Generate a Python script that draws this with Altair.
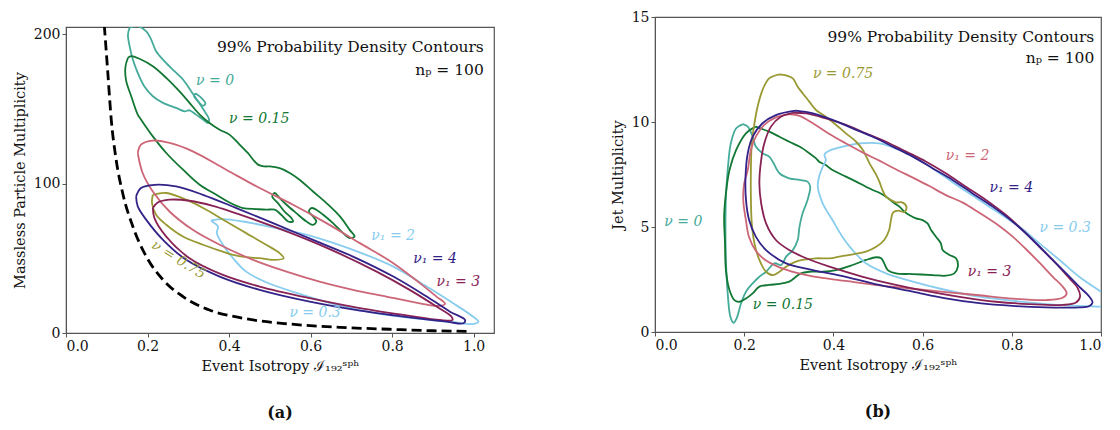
import altair as alt
import pandas as pd

# ---------------- Panel (a): event isotropy vs massless particle multiplicity
A_NU0 = [(0.156, 204.5), (0.176, 205.5), (0.197, 202), (0.209, 196.6), (0.221, 188.8), (0.242, 182),
         (0.266, 175.4), (0.287, 169.8), (0.307, 162), (0.324, 155.2), (0.340, 148.5), (0.351, 143),
         (0.348, 140.7), (0.336, 143), (0.319, 146.3), (0.303, 149.2), (0.291, 148.5), (0.270, 150.8),
         (0.238, 154.2), (0.213, 158.6), (0.192, 165.3), (0.176, 174.3), (0.164, 183.2), (0.156, 192.2),
         (0.152, 200)]
A_NU0_ISLAND = [(0.318, 160.4), (0.332, 157.5), (0.342, 153.7), (0.336, 152.3), (0.324, 155.2), (0.314, 159)]
A_NU015 = [(0.152, 184.4), (0.160, 185.5), (0.180, 183.7), (0.213, 178.7), (0.246, 170.9), (0.278, 162),
           (0.303, 154.2), (0.328, 146.3), (0.352, 140.7), (0.377, 136.2), (0.401, 132.9), (0.422, 127.3),
           (0.446, 120.6), (0.471, 112.8), (0.487, 111.6), (0.500, 111.6), (0.524, 110.5), (0.549, 107.2),
           (0.573, 102.7), (0.606, 94.8), (0.639, 87), (0.672, 78.1), (0.696, 69.1), (0.708, 64.6),
           (0.696, 63.6), (0.680, 66.9), (0.655, 73.6), (0.631, 79.2), (0.614, 82.6), (0.602, 83.7),
           (0.596, 81.4), (0.606, 78.1), (0.614, 74.7), (0.606, 72.5), (0.590, 74.7), (0.565, 80.3),
           (0.541, 85.9), (0.524, 90.4), (0.512, 93.8), (0.506, 91.5), (0.520, 87), (0.536, 81.4),
           (0.553, 77), (0.557, 74.7), (0.545, 74.7), (0.528, 79.2), (0.512, 82.6), (0.491, 82.6),
           (0.467, 83), (0.434, 83.7), (0.401, 87.4), (0.369, 92.6), (0.328, 99.3), (0.287, 109.4),
           (0.246, 120.6), (0.213, 131.7), (0.184, 143), (0.176, 146.3), (0.160, 158.6), (0.147, 169.8),
           (0.146, 178.7)]
A_NU1_2 = [(0.176, 120.6), (0.184, 126.2), (0.213, 128.9), (0.254, 127.3), (0.311, 121.7), (0.393, 109.4),
           (0.475, 97.1), (0.557, 85.9), (0.639, 73.6), (0.721, 60.2), (0.803, 46.8), (0.868, 33.4),
           (0.909, 24.4), (0.930, 19.5), (0.913, 18.1), (0.868, 19.9), (0.786, 24.4), (0.704, 28.9),
           (0.622, 34.4), (0.541, 41.1), (0.459, 49), (0.377, 59.1), (0.311, 69.1), (0.254, 81.4),
           (0.213, 94.8), (0.188, 107.2)]
A_NU1_4 = [(0.172, 91.5), (0.184, 97.1), (0.217, 99.3), (0.270, 98.2), (0.336, 92.6), (0.418, 83.7),
           (0.508, 73.6), (0.606, 62.4), (0.704, 51.2), (0.803, 37.8), (0.885, 24.4), (0.942, 14.3),
           (0.979, 8.7), (0.975, 6.5), (0.934, 7.6), (0.843, 10.5), (0.721, 15), (0.598, 21),
           (0.475, 28.9), (0.377, 37.8), (0.295, 49), (0.238, 62.4), (0.197, 75.8), (0.176, 84.8)]
A_NU1_3 = [(0.213, 83.7), (0.225, 87.4), (0.254, 89.3), (0.303, 88.6), (0.360, 85.2), (0.459, 76.3),
           (0.557, 66.4), (0.655, 55.2), (0.762, 41.1), (0.843, 28.9), (0.909, 17.7), (0.946, 10.9),
           (0.948, 8.7), (0.917, 8.7), (0.843, 11.4), (0.721, 16.6), (0.598, 23.3), (0.475, 31.1),
           (0.385, 38.9), (0.303, 50.1), (0.246, 64.6), (0.217, 77)]
A_NU075 = [(0.213, 92.6), (0.246, 93.8), (0.295, 89.3), (0.344, 82.6), (0.393, 74.7), (0.442, 66.9),
           (0.491, 59.1), (0.524, 53.5), (0.534, 50.1), (0.508, 49), (0.475, 50.1), (0.442, 50.8),
           (0.410, 52.3), (0.377, 55.2), (0.336, 59.1), (0.287, 64.6), (0.246, 72.5), (0.221, 79.2),
           (0.211, 87)]
A_NU03 = [(0.356, 75.4), (0.385, 76.3), (0.434, 74.7), (0.516, 70.3), (0.606, 64.6), (0.704, 55.7),
          (0.803, 44.5), (0.885, 31.1), (0.950, 19.9), (0.999, 10.9), (1.012, 7.6), (0.999, 6),
          (0.950, 7.2), (0.868, 9.4), (0.770, 12.8), (0.672, 18.3), (0.573, 26.2), (0.491, 34),
          (0.442, 41.1), (0.410, 50.1), (0.385, 59.1), (0.370, 66.9), (0.373, 71.3), (0.364, 73.6)]
A_BOUND = [(0.094, 206), (0.102, 176.5), (0.111, 143), (0.123, 116.1), (0.139, 93.8), (0.164, 71.3),
           (0.197, 51.2), (0.238, 35.6), (0.287, 24.4), (0.352, 15.4), (0.434, 9.9), (0.549, 6),
           (0.672, 3.8), (0.794, 2.5), (0.901, 1.5), (0.991, 1.1)]

# ---------------- Panel (b): event isotropy vs jet multiplicity
B_NU0 = [(0.197, 9.90), (0.208, 9.78), (0.219, 9.30), (0.226, 8.83), (0.241, 8.51), (0.256, 8.35),
         (0.264, 8.11), (0.279, 7.56), (0.301, 7.32), (0.324, 7.24), (0.342, 7.16), (0.348, 6.92),
         (0.342, 6.29), (0.331, 5.65), (0.324, 5.02), (0.320, 4.38), (0.309, 3.90), (0.294, 3.59),
         (0.283, 3.19), (0.268, 3.27), (0.249, 2.87), (0.234, 2.63), (0.219, 2.32), (0.204, 1.92),
         (0.193, 1.37), (0.183, 0.65), (0.176, 0.44), (0.169, 0.73), (0.163, 1.84), (0.159, 3.43),
         (0.158, 5.02), (0.159, 6.44), (0.163, 7.71), (0.170, 8.98), (0.182, 9.70)]
B_NU015 = [(0.226, 9.78), (0.256, 9.54), (0.279, 9.30), (0.301, 9.06), (0.324, 8.83), (0.346, 8.51),
           (0.361, 8.27), (0.368, 8.11), (0.383, 7.95), (0.398, 7.71), (0.428, 7.40), (0.451, 7.16),
           (0.473, 6.92), (0.488, 6.76), (0.503, 6.63), (0.518, 6.44), (0.537, 6.13), (0.548, 5.97),
           (0.559, 5.73), (0.570, 5.57), (0.585, 5.41), (0.600, 5.33), (0.611, 5.17), (0.619, 4.86),
           (0.630, 4.54), (0.641, 4.22), (0.645, 3.90), (0.660, 3.67), (0.675, 3.51), (0.679, 3.11),
           (0.671, 2.79), (0.652, 2.68), (0.623, 2.71), (0.578, 2.76), (0.540, 2.79), (0.522, 2.95),
           (0.514, 3.27), (0.507, 3.51), (0.496, 3.56), (0.473, 3.43), (0.443, 3.19), (0.406, 2.95),
           (0.376, 2.87), (0.346, 2.87), (0.327, 2.79), (0.316, 2.63), (0.301, 2.40), (0.279, 2.29),
           (0.256, 2.24), (0.234, 2.16), (0.219, 1.84), (0.204, 1.60), (0.189, 1.44), (0.178, 1.52),
           (0.167, 2.00), (0.159, 2.95), (0.157, 4.22), (0.155, 5.49), (0.159, 6.60), (0.167, 7.71),
           (0.182, 8.67), (0.204, 9.46)]
B_NU075 = [(0.279, 12.27), (0.294, 12.22), (0.309, 12.08), (0.320, 11.68), (0.331, 11.37), (0.346, 10.97),
           (0.361, 10.57), (0.383, 10.25), (0.406, 9.86), (0.428, 9.46), (0.451, 9.06), (0.466, 8.67),
           (0.481, 8.03), (0.496, 7.48), (0.503, 7.16), (0.510, 6.76), (0.518, 6.44), (0.529, 6.29),
           (0.540, 6.17), (0.554, 6.17), (0.564, 5.94), (0.559, 5.71), (0.546, 5.78), (0.534, 5.70),
           (0.529, 5.33), (0.525, 4.86), (0.514, 4.38), (0.496, 4.06), (0.473, 3.83), (0.443, 3.70),
           (0.413, 3.59), (0.391, 3.51), (0.361, 3.51), (0.339, 3.46), (0.316, 3.35), (0.294, 3.11),
           (0.279, 2.87), (0.264, 2.71), (0.249, 2.87), (0.234, 3.43), (0.223, 4.22), (0.217, 5.17),
           (0.215, 6.44), (0.215, 7.71), (0.217, 8.98), (0.223, 9.94), (0.230, 10.73), (0.241, 11.52),
           (0.256, 12.08)]
B_NU1_2 = [(0.301, 10.38), (0.324, 10.29), (0.354, 9.94), (0.391, 9.43), (0.428, 8.98), (0.466, 8.54),
           (0.503, 8.16), (0.540, 7.75), (0.578, 7.35), (0.615, 6.95), (0.652, 6.52), (0.690, 6.16),
           (0.727, 5.68), (0.772, 5.05), (0.802, 4.54), (0.832, 3.94), (0.862, 3.30), (0.892, 2.63),
           (0.914, 2.16), (0.923, 1.84), (0.914, 1.63), (0.877, 1.52), (0.802, 1.59), (0.727, 1.75),
           (0.652, 1.90), (0.578, 2.06), (0.503, 2.22), (0.428, 2.43), (0.368, 2.60), (0.316, 2.83),
           (0.279, 3.08), (0.249, 3.40), (0.226, 3.87), (0.211, 4.51), (0.204, 5.30), (0.198, 6.25),
           (0.200, 7.08), (0.208, 7.71), (0.215, 8.67), (0.226, 9.30), (0.245, 9.86), (0.271, 10.22)]
B_NU1_4 = [(0.316, 10.54), (0.354, 10.41), (0.398, 10.10), (0.443, 9.70), (0.488, 9.30), (0.533, 8.83),
           (0.578, 8.35), (0.623, 7.79), (0.667, 7.24), (0.712, 6.60), (0.757, 5.97), (0.802, 5.25),
           (0.847, 4.38), (0.884, 3.59), (0.922, 2.79), (0.951, 2.16), (0.974, 1.68), (0.981, 1.40),
           (0.974, 1.24), (0.951, 1.17), (0.914, 1.16), (0.877, 1.17), (0.802, 1.24), (0.727, 1.37),
           (0.652, 1.60), (0.578, 1.92), (0.503, 2.24), (0.428, 2.63), (0.354, 2.95), (0.294, 3.27),
           (0.249, 3.90), (0.226, 4.54), (0.211, 5.33), (0.204, 6.29), (0.203, 7.40), (0.208, 8.51),
           (0.219, 9.30), (0.241, 9.94), (0.271, 10.33)]
B_NU1_3 = [(0.309, 10.44), (0.339, 10.41), (0.383, 10.17), (0.428, 9.86), (0.473, 9.46), (0.518, 9.06),
           (0.563, 8.59), (0.608, 8.11), (0.652, 7.56), (0.697, 6.92), (0.742, 6.29), (0.787, 5.57),
           (0.824, 4.86), (0.862, 4.06), (0.899, 3.27), (0.929, 2.56), (0.948, 2.08), (0.953, 1.68),
           (0.944, 1.40), (0.914, 1.29), (0.839, 1.33), (0.765, 1.44), (0.690, 1.65), (0.615, 1.92),
           (0.540, 2.24), (0.466, 2.63), (0.391, 3.11), (0.339, 3.51), (0.301, 3.90), (0.271, 4.38),
           (0.249, 5.17), (0.238, 6.13), (0.234, 7.08), (0.238, 8.19), (0.245, 8.98), (0.260, 9.78),
           (0.282, 10.25)]
B_NU03 = [(0.383, 8.54), (0.395, 8.67), (0.428, 8.86), (0.458, 8.98), (0.503, 8.98), (0.548, 8.67),
          (0.593, 8.19), (0.638, 7.56), (0.682, 6.92), (0.727, 6.29), (0.772, 5.65), (0.817, 5.02),
          (0.862, 4.22), (0.907, 3.43), (0.951, 2.63), (1.000, 1.92), (1.041, 1.37), (1.041, 1.17),
          (1.000, 1.21), (0.951, 1.24), (0.877, 1.33), (0.802, 1.49), (0.727, 1.68), (0.652, 2.00),
          (0.578, 2.40), (0.518, 2.79), (0.473, 3.27), (0.443, 3.90), (0.420, 4.54), (0.398, 5.33),
          (0.376, 6.13), (0.365, 6.92), (0.368, 7.40), (0.376, 7.87), (0.383, 8.19), (0.380, 8.43)]

SERIES = ["nu0", "nu015", "nu03", "nu075", "nu1_2", "nu1_3", "nu1_4", "black"]
COLORS = ["#44AA99", "#117733", "#88CCEE", "#999933", "#CC6677", "#882255", "#332288", "#000000"]

# label texts: (series, text, x, y)
A_LABELS = [("nu0", "ν = 0", 0.319, 168.7), ("nu015", "ν = 0.15", 0.400, 143.6),
            ("nu03", "ν₁ = 2", 0.749, 65.0), ("nu1_4", "ν₁ = 4", 0.852, 49.7),
            ("nu1_3", "ν₁ = 3", 0.909, 34.4), ("nu03", "ν = 0.3", 0.548, 13.4)]
A_ROT_LABEL = [("nu075", "ν = 0.75", 0.276, 49.0)]
B_LABELS = [("nu075", "ν = 0.75", 0.354, 12.29), ("nu1_2", "ν₁ = 2", 0.652, 8.40),
            ("nu1_4", "ν₁ = 4", 0.750, 6.84), ("nu03", "ν = 0.3", 0.862, 4.94),
            ("nu1_3", "ν₁ = 3", 0.701, 2.87), ("nu0", "ν = 0", 0.021, 5.25),
            ("nu015", "ν = 0.15", 0.219, 1.29)]
TITLE_LINES = ["99% Probability Density Contours", "nₚ = 100"]
A_TITLE_POS = [(1.025, 191.3), (1.025, 176.5)]
B_TITLE_POS = [(0.985, 14.03), (0.985, 13.03)]

XTITLE = "Event Isotropy ℐ₁₉₂ˢᵖʰ"
FONT = "DejaVu Serif"


def contours_df(pieces):
    rows = []
    for key, series, pts in pieces:
        closed = list(pts) + [pts[0]]
        for i, (x, y) in enumerate(closed):
            rows.append({"key": key, "series": series, "order": i, "x": x, "y": y})
    return pd.DataFrame(rows)


def labels_df(items):
    return pd.DataFrame([{"series": s, "text": t, "x": x, "y": y} for s, t, x, y in items])


color_scale = alt.Scale(domain=SERIES, range=COLORS)


def panel(pieces, labels, titlepos, xdom, ydom, yticks, ytitle, w, h, sub, bound=None, rot=None):
    xenc = alt.X("x:Q", scale=alt.Scale(domain=xdom, nice=False, zero=False),
                 axis=alt.Axis(values=[0, 0.2, 0.4, 0.6, 0.8, 1.0], format=".1f", title=XTITLE))
    yenc = alt.Y("y:Q", scale=alt.Scale(domain=ydom, nice=False, zero=False),
                 axis=alt.Axis(values=yticks, format="d", title=ytitle))
    lines = alt.Chart(contours_df(pieces)).mark_line(
        clip=True, strokeWidth=1.8, interpolate="catmull-rom").encode(
        x=xenc, y=yenc, color=alt.Color("series:N", scale=color_scale, legend=None),
        detail="key:N", order="order:Q")
    layers = []
    if bound is not None:
        bdf = pd.DataFrame([{"x": x, "y": y, "order": i} for i, (x, y) in enumerate(bound)])
        layers.append(alt.Chart(bdf).mark_line(clip=True, color="black", strokeWidth=2.8,
                                                strokeDash=[10, 5], interpolate="monotone").encode(
            x="x:Q", y="y:Q", order="order:Q"))
    layers.append(lines)
    layers.append(alt.Chart(labels_df(labels)).mark_text(
        align="left", baseline="middle", font=FONT, fontSize=14, fontStyle="italic").encode(
        x="x:Q", y="y:Q", text="text:N",
        color=alt.Color("series:N", scale=color_scale, legend=None)))
    if rot is not None:
        layers.append(alt.Chart(labels_df(rot)).mark_text(
            align="center", baseline="middle", font=FONT, fontSize=14, fontStyle="italic", angle=32).encode(
            x="x:Q", y="y:Q", text="text:N",
            color=alt.Color("series:N", scale=color_scale, legend=None)))
    tdf = pd.DataFrame([{"text": t, "x": p[0], "y": p[1]} for t, p in zip(TITLE_LINES, titlepos)])
    layers.append(alt.Chart(tdf).mark_text(
        align="right", baseline="middle", font=FONT, fontSize=15.5, color="#111").encode(
        x="x:Q", y="y:Q", text="text:N"))
    return alt.layer(*layers).properties(
        width=w, height=h,
        title=alt.TitleParams(sub, orient="bottom", fontWeight="bold", font=FONT, fontSize=16,
                              offset=32, color="#111"))


left = panel(
    [("a0", "nu0", A_NU0), ("a0i", "nu0", A_NU0_ISLAND), ("a015", "nu015", A_NU015),
     ("a03", "nu03", A_NU03), ("a075", "nu075", A_NU075), ("a2", "nu1_2", A_NU1_2),
     ("a3", "nu1_3", A_NU1_3), ("a4", "nu1_4", A_NU1_4)],
    A_LABELS, A_TITLE_POS, [0, 1.05], [0, 205], [0, 100, 200],
    "Massless Particle Multiplicity", 428, 306, "(a)", bound=A_BOUND, rot=A_ROT_LABEL)

right = panel(
    [("b0", "nu0", B_NU0), ("b015", "nu015", B_NU015), ("b03", "nu03", B_NU03),
     ("b075", "nu075", B_NU075), ("b2", "nu1_2", B_NU1_2), ("b3", "nu1_3", B_NU1_3),
     ("b4", "nu1_4", B_NU1_4)],
    B_LABELS, B_TITLE_POS, [0, 1.0], [0, 15], [0, 5, 10, 15],
    "Jet Multiplicity", 446, 315, "(b)")

# invisible spacer that lowers panel (a) relative to panel (b)
spacer = alt.Chart(pd.DataFrame({"k": [0]})).mark_point(opacity=0).encode(
    x=alt.value(0), y=alt.value(0)).properties(
    width=10, height=1, view=alt.ViewBackground(strokeOpacity=0))

chart = alt.hconcat(alt.vconcat(spacer, left, spacing=6), right, spacing=114).properties(
    padding={"left": 3, "top": 1, "right": 0, "bottom": 0}
).configure_view(stroke="#555", strokeWidth=1.2).configure_axis(
    grid=False, labelFont=FONT, titleFont=FONT, labelFontSize=14, titleFontSize=14.5,
    labelColor="#111", titleColor="#111", titleFontWeight="normal",
    domainColor="#555", tickColor="#555", tickSize=4, labelPadding=2, titlePadding=6
)

chart.save("out.html", embed_options={"renderer": "svg", "actions": False})
